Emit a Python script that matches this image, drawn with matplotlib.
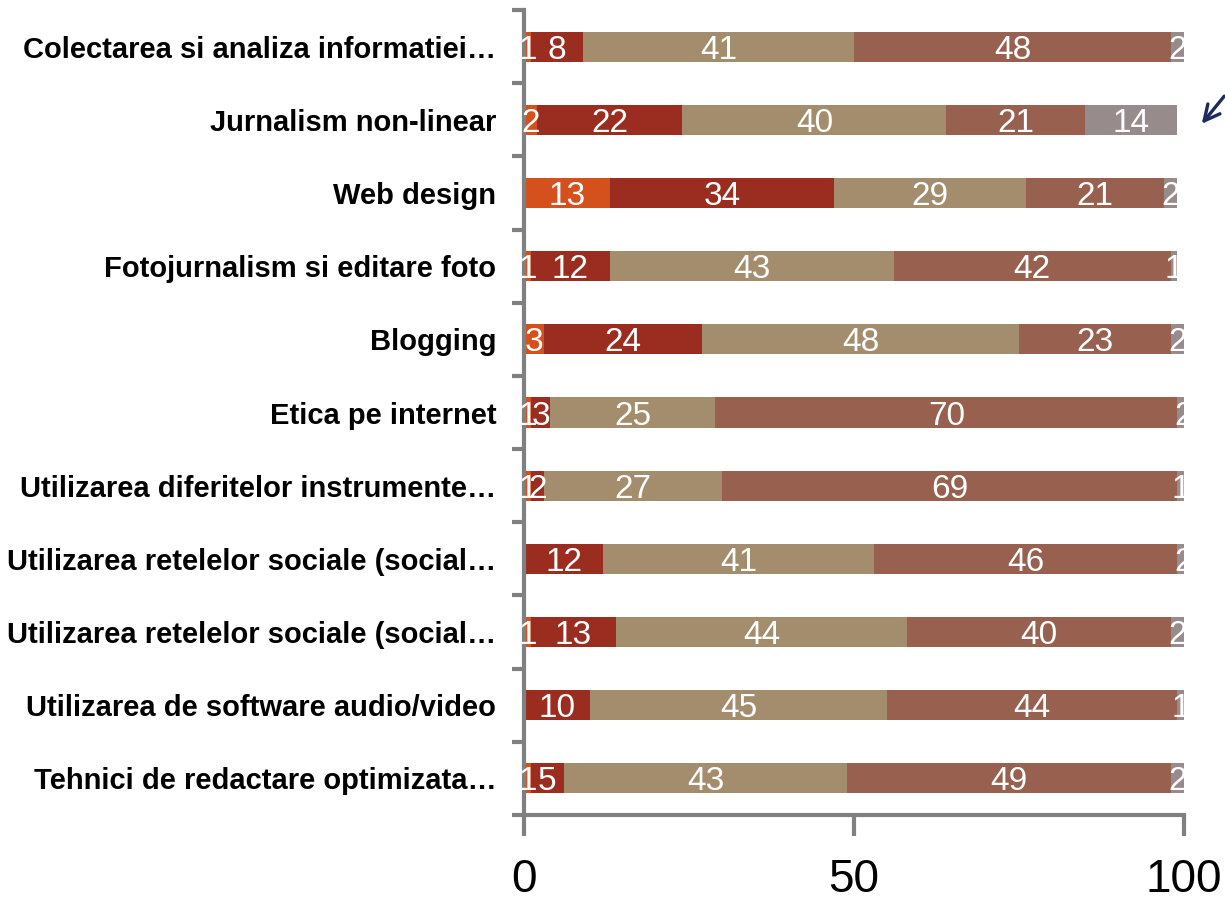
import matplotlib.pyplot as plt
from matplotlib.patches import FancyArrowPatch
import numpy as np

plt.rcParams['font.family'] = ['Liberation Sans', 'DejaVu Sans']

categories = [
    'Colectarea si analiza informatiei…',
    'Jurnalism non-linear',
    'Web design',
    'Fotojurnalism si editare foto',
    'Blogging',
    'Etica pe internet',
    'Utilizarea diferitelor instrumente…',
    'Utilizarea retelelor sociale (social…',
    'Utilizarea retelelor sociale (social…',
    'Utilizarea de software audio/video',
    'Tehnici de redactare optimizata…',
]

s1 = [1, 2, 13, 1, 3, 1, 1, 0, 1, 0, 1]
s2 = [8, 22, 34, 12, 24, 3, 2, 12, 13, 10, 5]
s3 = [41, 40, 29, 43, 48, 25, 27, 41, 44, 45, 43]
s4 = [48, 21, 21, 42, 23, 70, 69, 46, 40, 44, 49]
s5 = [2, 14, 2, 1, 2, 2, 1, 2, 2, 1, 2]

series = [s1, s2, s3, s4, s5]
colors = ['#D4501C', '#9B2D20', '#A38D6D', '#97604F', '#978B8B']

fig = plt.figure(figsize=(12.25, 9.06), dpi=100)
ax = fig.add_axes([0.4278, 0.1004, 0.5387, 0.8886])

y = np.arange(len(categories))
left = np.zeros(len(categories))
for vals, col in zip(series, colors):
    vals = np.array(vals, dtype=float)
    ax.barh(y, vals, left=left, height=0.41, color=col, linewidth=0)
    for yi, (l, v) in enumerate(zip(left, vals)):
        if v > 0:
            ax.text(l + v / 2, yi, f'{int(v)}', ha='center', va='center_baseline',
                    color='white', fontsize=24)
    left += vals

ax.set_xlim(0, 100)
ax.set_ylim(len(categories) - 0.5, -0.5)
ax.set_yticks(y)
ax.set_yticklabels(categories, fontsize=21, fontweight='bold')
ax.set_yticks(np.arange(-0.5, len(categories), 1), minor=True)
ax.tick_params(axis='y', which='major', length=0, pad=20)
ax.tick_params(axis='y', which='minor', length=9, width=3, color='#808080')
ax.set_xticks([0, 50, 100])
ax.tick_params(axis='x', length=15, width=3, color='#808080', labelsize=33, pad=16)

for side in ['top', 'right']:
    ax.spines[side].set_visible(False)
for side in ['left', 'bottom']:
    ax.spines[side].set_color('#808080')
    ax.spines[side].set_linewidth(3)

# arrow pointing at the last segment of the second bar
fig.patches.append(FancyArrowPatch(
    (1226 / 1225, 1 - 94 / 906), (1200 / 1225, 1 - 126 / 906),
    transform=fig.transFigure, arrowstyle='->', mutation_scale=28,
    color='#1F2A5C', linewidth=2.4))

fig.savefig('out.png', dpi=100)
